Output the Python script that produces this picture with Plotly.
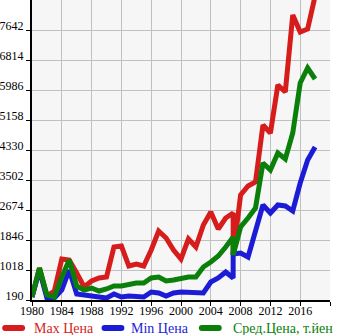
import plotly.graph_objects as go

# Years (2007 appears twice: the series break there)
years = list(range(1980, 2007)) + [2007, 2007] + list(range(2008, 2019))

max_price = [273, 1073, 300, 438, 1322, 1294, 935, 549, 714, 797,
             825, 1653, 1680, 1128, 1184, 1128, 1570, 2094, 1901, 1570,
             1322, 1874, 1653, 2260, 2619, 2150, 2453, 2591, 1432,
             3088, 3336, 3447, 5020, 4799, 6124, 5931, 8056, 7587, 7670, 8580]

min_price = [273, 1018, 245, 245, 466, 1018, 356, 328, 300, 273,
             245, 356, 273, 300, 300, 273, 411, 383, 300, 383,
             411, 411, 411, 383, 687, 797, 963, 797, 1460,
             1487, 1377, 2067, 2812, 2591, 2812, 2784, 2646, 3419, 4054, 4413]

avg_price = [273, 1073, 328, 273, 825, 1294, 576, 466, 521, 438,
             494, 576, 576, 632, 659, 659, 797, 825, 714, 742,
             797, 825, 825, 1101, 1239, 1404, 1653, 1929, 1432,
             2205, 2453, 2729, 3971, 3778, 4247, 4082, 4799, 6179, 6593, 6290]

y_ticks = [190, 1018, 1846, 2674, 3502, 4330, 5158, 5986, 6814, 7642]
x_ticks = list(range(1980, 2021, 4))
x_labels = [str(y) for y in x_ticks[:-1]] + [""]

series = [
    ("Max Цена", max_price, "#d71c1c"),
    ("Min Цена", min_price, "#1c1cd7"),
    ("Сред.Цена, т.йен", avg_price, "#0a800a"),
]

W, H = 345, 335
ML, MR, MT, MB = 30, 15, 0, 35
PW, PH = W - ML - MR, H - MT - MB


def px_to_paper(px, py):
    """Convert page pixel position to paper coordinates."""
    return (px - ML) / PW, (H - MB - py) / PH


fig = go.Figure()
for name, vals, color in series:
    fig.add_trace(go.Scatter(
        x=years, y=vals, name=name, mode="lines",
        line=dict(color=color, width=5), showlegend=False,
    ))

serif = "Liberation Serif, Times New Roman, serif"

# Legend row below the plot: a short thick swatch followed by the label
legend_y = 328
swatch_x = [0, 100, 198]
text_x = [30, 128, 230]
shapes, annotations = [], []
for (name, _, color), sx, tx in zip(series, swatch_x, text_x):
    x0, yy = px_to_paper(sx + 3, legend_y)
    x1, _ = px_to_paper(sx + 20, legend_y)
    shapes.append(dict(type="line", xref="paper", yref="paper",
                       x0=x0, x1=x1, y0=yy, y1=yy,
                       line=dict(color=color, width=6)))
    for cx in (sx + 3, sx + 20):
        cxp, _ = px_to_paper(cx, legend_y)
        shapes.append(dict(type="circle", xref="paper", yref="paper",
                           xsizemode="pixel", ysizemode="pixel",
                           xanchor=cxp, yanchor=yy,
                           x0=-3, x1=3, y0=-3, y1=3,
                           fillcolor=color, line=dict(width=0)))
    tx_p, _ = px_to_paper(tx, legend_y)
    annotations.append(dict(xref="paper", yref="paper", x=tx_p, y=yy,
                            xanchor="left", yanchor="middle", showarrow=False,
                            text=name, font=dict(family=serif, size=14, color=color)))

fig.update_layout(
    width=W, height=H,
    margin=dict(l=ML, r=MR, t=MT, b=MB),
    paper_bgcolor="white",
    plot_bgcolor="#f6f6f6",
    font=dict(family=serif, size=12, color="black"),
    showlegend=False,
    shapes=shapes,
    annotations=annotations,
    xaxis=dict(
        range=[1980, 2020], tickvals=x_ticks, ticktext=x_labels,
        showgrid=True, gridcolor="#c0c0c0", gridwidth=1,
        showline=True, linecolor="black", linewidth=2,
        ticks="outside", ticklen=4, tickcolor="black",
        ticklabelstandoff=-5,
        zeroline=False, fixedrange=True,
        tickfont=dict(family=serif, size=12),
    ),
    yaxis=dict(
        range=[190, 8470], tickvals=y_ticks,
        showgrid=True, gridcolor="#c0c0c0", gridwidth=1,
        showline=True, linecolor="black", linewidth=2,
        ticks="outside", ticklen=4, tickcolor="black",
        ticklabelshift=-4,
        zeroline=False, fixedrange=True,
        tickfont=dict(family=serif, size=12),
    ),
)

fig.write_html("out.html", config={"displayModeBar": False})
